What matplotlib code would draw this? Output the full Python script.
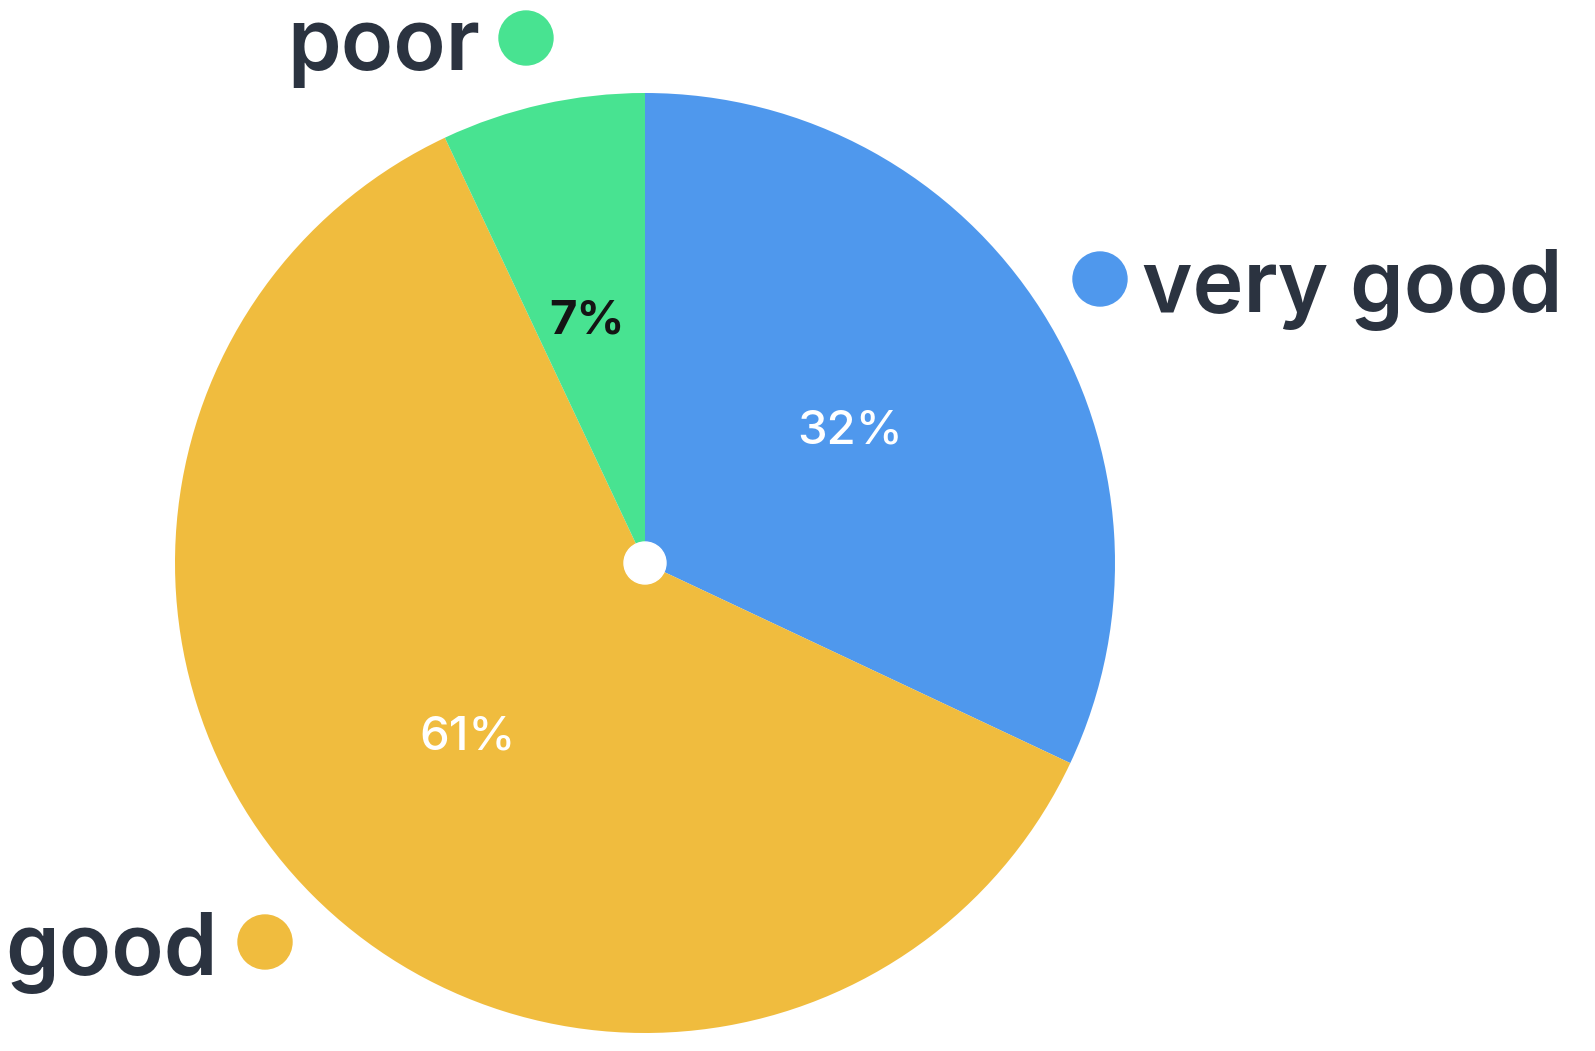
import matplotlib.pyplot as plt
import matplotlib.patches as mpatches

# data
labels = ["very good", "good", "poor"]
values = [32, 61, 7]
colors = ["#4f98ed", "#f0bc3e", "#48e391"]
pct_colors = ["white", "white", "#141414"]

W, H = 1595, 1051
text_col = "#2b3340"

plt.rcParams['font.family'] = ['Inter', 'DejaVu Sans']

fig = plt.figure(figsize=(W / 100, H / 100), dpi=100)
ax = fig.add_axes([0, 0, 1, 1])

cx, cy, r = 645, H - 563, 470
wedges, _ = ax.pie(values, colors=colors, startangle=90, counterclock=False,
                   center=(cx, cy), radius=r, frame=True,
                   wedgeprops=dict(linewidth=0))
ax.set_xlim(0, W)
ax.set_ylim(0, H)
ax.set_aspect('equal')
ax.axis('off')

# white hub in the middle
ax.add_patch(mpatches.Circle((cx, cy), 21, color="white", zorder=5))

# percent labels
pct_pos = [(850, 432), (468, 737), (587, 322)]
for v, (px, py), c in zip(values, pct_pos, pct_colors):
    ax.text(px, H - py, f"{v}%", color=c, fontsize=34, ha='center', va='center',
            fontweight='medium' if c == "white" else 'bold')

# outer labels with coloured dots
lab_pos = {
    "very good": dict(dot=(1100, 279), txt=(1142, 312), ha='left'),
    "good": dict(dot=(265, 942), txt=(218, 975), ha='right'),
    "poor": dict(dot=(526, 38), txt=(480, 70), ha='right'),
}
for lab, c in zip(labels, colors):
    p = lab_pos[lab]
    ax.add_patch(mpatches.Circle((p['dot'][0], H - p['dot'][1]), 27, color=c))
    ax.text(p['txt'][0], H - p['txt'][1], lab, color=text_col, fontsize=62,
            ha=p['ha'], va='baseline', fontweight='semibold')

fig.savefig("out.png", dpi=100, facecolor="white")
